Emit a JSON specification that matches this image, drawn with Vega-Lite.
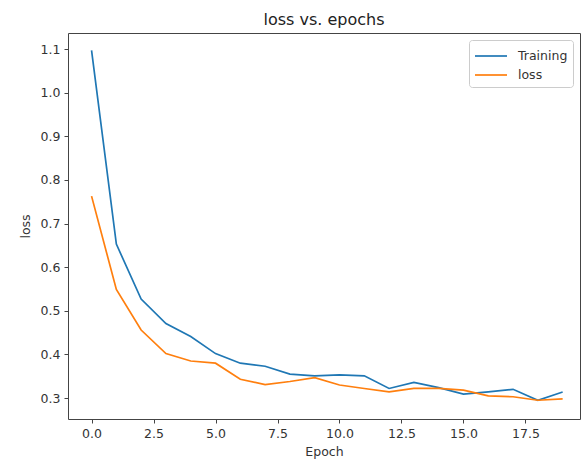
{
  "$schema": "https://vega.github.io/schema/vega-lite/v6.json",
  "width": 512,
  "height": 386,
  "autosize": {"type": "none"},
  "padding": {"left": 68, "top": 33, "right": 4, "bottom": 46},
  "background": "white",
  "config": {
    "font": "DejaVu Sans",
    "view": {"stroke": "#444", "strokeWidth": 1},
    "axis": {"grid": false, "domain": false, "tickColor": "#444", "tickSize": 4, "labelColor": "#333", "titleColor": "#333", "labelFontSize": 12.5, "titleFontSize": 12.5, "titleFontWeight": "normal", "labelPadding": 4}
  },
  "title": {"text": "loss vs. epochs", "fontSize": 16, "fontWeight": "normal", "color": "#222", "anchor": "middle", "offset": 5},
  "data": {
    "values": [
      {"epoch": 0, "series": "Training", "loss": 1.097},
      {"epoch": 1, "series": "Training", "loss": 0.653},
      {"epoch": 2, "series": "Training", "loss": 0.527},
      {"epoch": 3, "series": "Training", "loss": 0.471},
      {"epoch": 4, "series": "Training", "loss": 0.441},
      {"epoch": 5, "series": "Training", "loss": 0.402},
      {"epoch": 6, "series": "Training", "loss": 0.380},
      {"epoch": 7, "series": "Training", "loss": 0.373},
      {"epoch": 8, "series": "Training", "loss": 0.355},
      {"epoch": 9, "series": "Training", "loss": 0.351},
      {"epoch": 10, "series": "Training", "loss": 0.353},
      {"epoch": 11, "series": "Training", "loss": 0.351},
      {"epoch": 12, "series": "Training", "loss": 0.322},
      {"epoch": 13, "series": "Training", "loss": 0.336},
      {"epoch": 14, "series": "Training", "loss": 0.324},
      {"epoch": 15, "series": "Training", "loss": 0.309},
      {"epoch": 16, "series": "Training", "loss": 0.314},
      {"epoch": 17, "series": "Training", "loss": 0.320},
      {"epoch": 18, "series": "Training", "loss": 0.295},
      {"epoch": 19, "series": "Training", "loss": 0.314},
      {"epoch": 0, "series": "loss", "loss": 0.763},
      {"epoch": 1, "series": "loss", "loss": 0.549},
      {"epoch": 2, "series": "loss", "loss": 0.456},
      {"epoch": 3, "series": "loss", "loss": 0.402},
      {"epoch": 4, "series": "loss", "loss": 0.385},
      {"epoch": 5, "series": "loss", "loss": 0.380},
      {"epoch": 6, "series": "loss", "loss": 0.343},
      {"epoch": 7, "series": "loss", "loss": 0.331},
      {"epoch": 8, "series": "loss", "loss": 0.338},
      {"epoch": 9, "series": "loss", "loss": 0.347},
      {"epoch": 10, "series": "loss", "loss": 0.330},
      {"epoch": 11, "series": "loss", "loss": 0.322},
      {"epoch": 12, "series": "loss", "loss": 0.314},
      {"epoch": 13, "series": "loss", "loss": 0.322},
      {"epoch": 14, "series": "loss", "loss": 0.322},
      {"epoch": 15, "series": "loss", "loss": 0.318},
      {"epoch": 16, "series": "loss", "loss": 0.305},
      {"epoch": 17, "series": "loss", "loss": 0.303},
      {"epoch": 18, "series": "loss", "loss": 0.295},
      {"epoch": 19, "series": "loss", "loss": 0.298}
    ]
  },
  "mark": {"type": "line", "strokeWidth": 1.7},
  "encoding": {
    "x": {
      "field": "epoch", "type": "quantitative",
      "scale": {"domain": [-0.95, 19.7], "nice": false, "zero": false},
      "axis": {"values": [0, 2.5, 5, 7.5, 10, 12.5, 15, 17.5], "format": ".1f", "title": "Epoch", "titlePadding": 6}
    },
    "y": {
      "field": "loss", "type": "quantitative",
      "scale": {"domain": [0.252, 1.137], "nice": false, "zero": false},
      "axis": {"values": [0.3, 0.4, 0.5, 0.6, 0.7, 0.8, 0.9, 1.0, 1.1], "format": ".1f", "title": "loss", "titlePadding": 8}
    },
    "color": {
      "field": "series", "type": "nominal",
      "scale": {"domain": ["Training", "loss"], "range": ["#1f77b4", "#ff7f0e"]},
      "legend": {
        "title": null, "orient": "none", "legendX": 401, "legendY": 7,
        "symbolType": "M-1,0H2.2", "symbolStrokeWidth": 1.7, "symbolSize": 400,
        "labelFontSize": 12.5, "labelColor": "#333", "labelOffset": 22, "rowPadding": 1,
        "strokeColor": "#ccc", "fillColor": "white", "padding": 5, "cornerRadius": 3
      }
    }
  }
}
